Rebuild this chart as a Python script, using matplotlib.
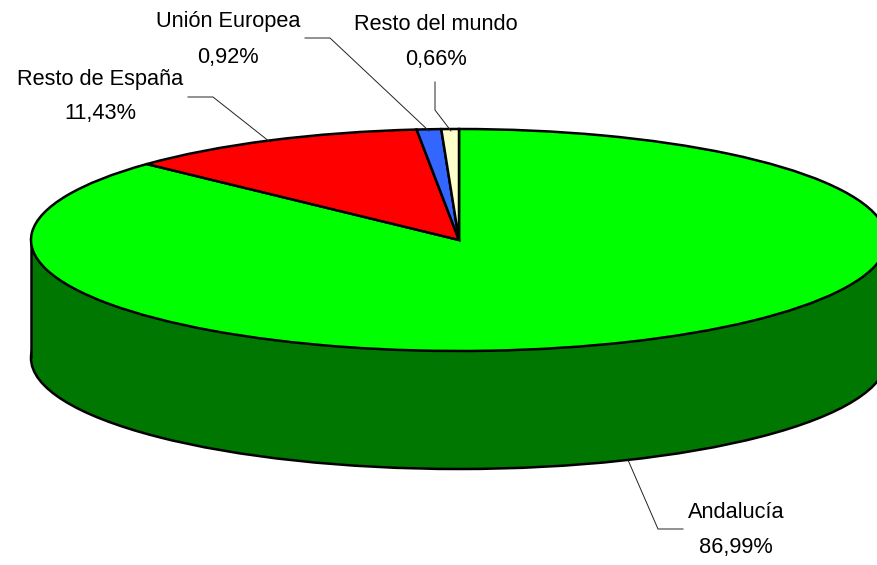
import matplotlib
matplotlib.use("Agg")
import matplotlib.pyplot as plt
from matplotlib.patches import Ellipse, Rectangle

# datos
regiones = ["Andalucía", "Resto de España", "Unión Europea", "Resto del mundo"]
porcentajes = [86.99, 11.43, 0.92, 0.66]
colores = ["#00FF00", "#FF0000", "#3366FF", "#FFFFCC"]
color_lateral = "#007700"

W, H = 878, 565
plt.rcParams['font.family'] = ['Liberation Sans', 'DejaVu Sans']

fig = plt.figure(figsize=(W / 100, H / 100), dpi=100)

# elipse superior en pixeles
cx, cy, rx, ry = 459, 240, 428, 111
altura = 118 / ry
ax = fig.add_axes([(cx - rx) / W, 1 - (cy + ry) / H, 2 * rx / W, 2 * ry / H])

wedges, _ = ax.pie(porcentajes, colors=colores, startangle=90, counterclock=False,
                   radius=1, wedgeprops={"edgecolor": "black", "linewidth": 1.8})
ax.set_aspect("auto")
ax.set_xlim(-1, 1)
ax.set_ylim(-1, 1)
ax.axis("off")

# lateral del queso
ax.add_patch(Ellipse((0, -altura), 2, 2, facecolor=color_lateral, edgecolor="black",
                     linewidth=1.8, zorder=0, clip_on=False))
ax.add_patch(Rectangle((-1, -altura), 2, altura, facecolor=color_lateral, edgecolor="none",
                       zorder=0, clip_on=False))
ax.plot([-1, -1], [0, -altura], color="black", lw=1.8, zorder=0.5, clip_on=False,
        solid_capstyle="butt")
ax.plot([1, 1], [0, -altura], color="black", lw=1.8, zorder=0.5, clip_on=False,
        solid_capstyle="butt")
for w in wedges:
    w.set_clip_on(False)

# capa en pixeles para etiquetas y guias
capa = fig.add_axes([0, 0, 1, 1])
capa.set_xlim(0, W)
capa.set_ylim(H, 0)
capa.axis("off")

pos_texto = [(736, 512, 547), (100, 80, 114), (228, 21, 57), (436, 24, 60)]
guias = [
    [(628, 460), (658, 529), (683, 529)],
    [(188, 97), (213, 97), (270, 142)],
    [(305, 38), (330, 38), (429, 131)],
    [(435, 82), (435, 110), (451, 131)],
]

for nombre, valor, (x, y1, y2), guia in zip(regiones, porcentajes, pos_texto, guias):
    capa.text(x, y1, nombre, ha="center", va="center", fontsize=15.7, color="black")
    capa.text(x, y2, f"{valor:.2f}%".replace(".", ","), ha="center", va="center",
              fontsize=15.7, color="black")
    capa.plot([p[0] for p in guia], [p[1] for p in guia], color="#222222", lw=0.7)

fig.savefig("out.png", dpi=100)
